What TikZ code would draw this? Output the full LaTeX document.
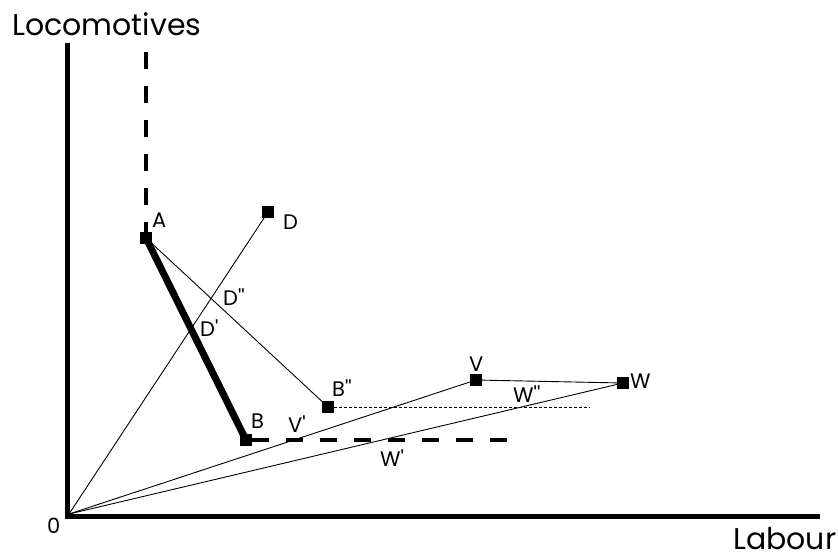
\documentclass[tikz,border=0pt]{standalone}
\usepackage{fontspec}
\setmainfont{Poppins}
\usetikzlibrary{positioning}

\begin{document}
\begin{tikzpicture}[x=1pt,y=-1pt,
  pt/.style={rectangle,fill=black,inner sep=0pt,minimum size=12pt},
  lbl/.style={anchor=base west,inner sep=0pt,font=\fontsize{21}{21}\selectfont},
  axlbl/.style={anchor=base west,inner sep=0pt,font=\fontsize{30}{30}\selectfont},
  axis/.style={line width=5pt},
  thin/.style={line width=0.9pt},
  bigdash/.style={line width=4pt,dash pattern=on 17pt off 17pt},
  smalldash/.style={line width=0.6pt,dash pattern=on 3pt off 2pt}
]
  \useasboundingbox (0,0) rectangle (838,558);

  \coordinate (O)    at (69,514);
  \coordinate (ytop) at (67,43);
  \coordinate (xend) at (820,516);
  \coordinate (Atop) at (146,52);
  \coordinate (Bend) at (509,440);
  \coordinate (Bpp2) at (590,407);

  \node[pt](A)   at (146,238) {};
  \node[pt](D)   at (268,212) {};
  \node[pt](B)   at (246,440) {};
  \node[pt](Bpp) at (328,407) {};
  \node[pt](V)   at (476,380) {};
  \node[pt](W)   at (623,383) {};

  % axes
  \draw[axis] (ytop) |- (xend);

  % rays and links
  \draw[thin] (O) -- (D.center);
  \draw[thin] (O) -- (V.center);
  \draw[thin] (O) -- (W.center);
  \draw[thin] (V.center) -- (W.center);
  \draw[thin] (A.center) -- (Bpp.center);
  \draw[line width=7pt] (A.center) -- (B.center);
  \draw[bigdash] (Atop) -- (A.north);
  \draw[bigdash] (B.east) -- (Bend);
  \draw[smalldash] (Bpp.east) -- (Bpp2);

  % redraw points on top
  \foreach \p in {A,D,B,Bpp,V,W} \fill (\p.south west) rectangle (\p.north east);

  \node[axlbl] (ylab) at (12,35)  {Locomotives};
  \node[axlbl] (xlab) at (733,549) {Labour};
  \node[lbl]   (olab) at (47,533)  {0};
  \node[lbl]   (alab) at (152,227) {A};
  \node[lbl]   (dlab) at (283,229) {D};
  \node[lbl]   (d2lab) at (223,305) {D\textquotesingle\textquotesingle};
  \node[lbl]   (d1lab) at (200,336) {D\textquotesingle};
  \node[lbl]   (blab) at (251,428) {B};
  \node[lbl]   (v1lab) at (288,432) {V\textquotesingle};
  \node[lbl]   (b2lab) at (332,396) {B\textquotesingle\textquotesingle};
  \node[lbl]   (vlab) at (469,371) {V};
  \node[lbl]   (wlab) at (630,388) {W};
  \node[lbl]   (w2lab) at (513,402) {W\textquotesingle\textquotesingle};
  \node[lbl]   (w1lab) at (380,466) {W\textquotesingle};
\end{tikzpicture}
\end{document}
